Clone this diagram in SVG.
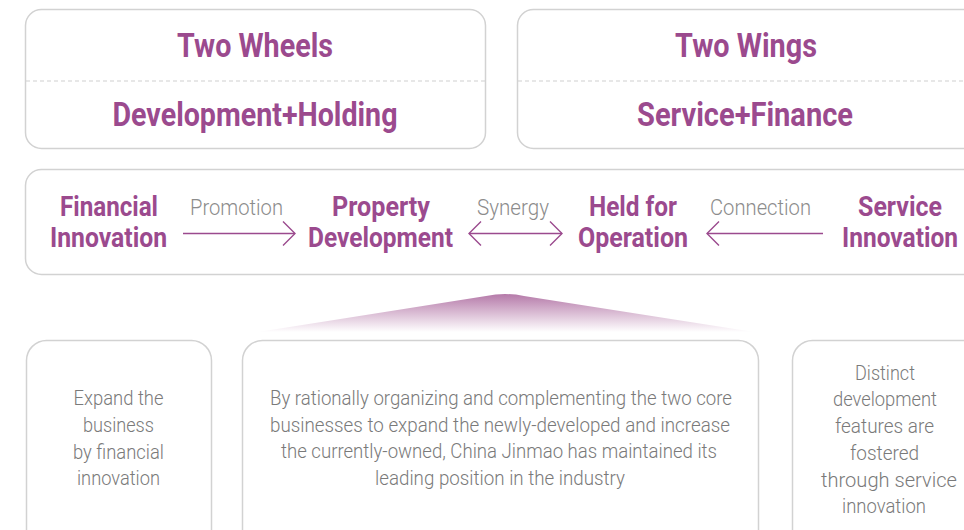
<svg xmlns="http://www.w3.org/2000/svg" width="964" height="530" viewBox="0 0 964 530">
<defs>
<linearGradient id="peak" x1="0" y1="0" x2="0" y2="1">
<stop offset="0" stop-color="#b57aa9"/>
<stop offset="1" stop-color="#ffffff"/>
</linearGradient>
<marker id="ah" viewBox="0 0 14 26" refX="13" refY="13" markerWidth="14" markerHeight="26" markerUnits="userSpaceOnUse" orient="auto-start-reverse">
<path d="M1,1 L13,13 L1,25" fill="none" stroke="#9b4a8e" stroke-width="1.4"/>
</marker>
<style>
.box{fill:#fff;stroke:#d2d2d2;stroke-width:1.5}
.dash{stroke:#cfcfcf;stroke-width:1;stroke-dasharray:4 3}
.h1{font-family:Roboto,"Liberation Sans",sans-serif;font-weight:700;font-size:33px;fill:#9b4a8e;text-anchor:middle}
.h2{font-family:Roboto,"Liberation Sans",sans-serif;font-weight:700;font-size:28px;fill:#9b4a8e;text-anchor:middle}
.lab{font-family:Roboto,"Liberation Sans",sans-serif;font-weight:300;font-size:22px;fill:#8c8c8c;text-anchor:middle}
.body{font-family:Roboto,"Liberation Sans",sans-serif;font-weight:300;font-size:20px;fill:#7a7a7a;text-anchor:middle}
.conn{stroke:#9b4a8e;stroke-width:1.4;fill:none}
</style>
</defs>

<g id="two-wheels">
<rect class="box" x="25.5" y="9.5" width="460" height="139" rx="16"/>
<line class="dash" x1="26" y1="81" x2="485" y2="81"/>
<text class="h1" x="255" y="57" textLength="156" lengthAdjust="spacingAndGlyphs">Two Wheels</text>
<text class="h1" x="255" y="126" textLength="285" lengthAdjust="spacingAndGlyphs">Development+Holding</text>
</g>

<g id="two-wings">
<rect class="box" x="517.5" y="9.5" width="470" height="139" rx="16"/>
<line class="dash" x1="518" y1="81" x2="964" y2="81"/>
<text class="h1" x="746" y="57" textLength="142" lengthAdjust="spacingAndGlyphs">Two Wings</text>
<text class="h1" x="745" y="126" textLength="216" lengthAdjust="spacingAndGlyphs">Service+Finance</text>
</g>

<g id="model-row">
<rect class="box" x="25.5" y="169.5" width="960" height="105" rx="16"/>
</g>

<g id="financial-innovation">
<text class="h2" x="109" y="216" textLength="98" lengthAdjust="spacingAndGlyphs">Financial</text>
<text class="h2" x="108.5" y="247" textLength="117" lengthAdjust="spacingAndGlyphs">Innovation</text>
</g>
<g id="property-development">
<text class="h2" x="381" y="216" textLength="98" lengthAdjust="spacingAndGlyphs">Property</text>
<text class="h2" x="380.5" y="247" textLength="145" lengthAdjust="spacingAndGlyphs">Development</text>
</g>
<g id="held-for-operation">
<text class="h2" x="633" y="216" textLength="88" lengthAdjust="spacingAndGlyphs">Held for</text>
<text class="h2" x="633" y="247" textLength="110" lengthAdjust="spacingAndGlyphs">Operation</text>
</g>
<g id="service-innovation">
<text class="h2" x="900" y="216" textLength="84" lengthAdjust="spacingAndGlyphs">Service</text>
<text class="h2" x="900" y="247" textLength="116" lengthAdjust="spacingAndGlyphs">Innovation</text>
</g>

<g id="connectors">
<line class="conn" x1="183" y1="233.5" x2="295" y2="233.5" marker-end="url(#ah)"/>
<text class="lab" x="236.5" y="215" textLength="93" lengthAdjust="spacingAndGlyphs">Promotion</text>
<line class="conn" x1="469" y1="233.5" x2="562" y2="233.5" marker-start="url(#ah)" marker-end="url(#ah)"/>
<text class="lab" x="513" y="215" textLength="72" lengthAdjust="spacingAndGlyphs">Synergy</text>
<line class="conn" x1="823" y1="233.5" x2="707" y2="233.5" marker-end="url(#ah)"/>
<text class="lab" x="760.5" y="215" textLength="101" lengthAdjust="spacingAndGlyphs">Connection</text>
</g>

<g id="peak-shape">
<path d="M258,332 L486,296 Q505,292 524,296 L754,332 Z" fill="url(#peak)"/>
</g>

<g id="desc-financial">
<rect class="box" x="26.5" y="340.5" width="185" height="220" rx="20"/>
<text class="body" x="118.5" y="405" textLength="90" lengthAdjust="spacingAndGlyphs">Expand the</text>
<text class="body" x="118.5" y="432" textLength="71" lengthAdjust="spacingAndGlyphs">business</text>
<text class="body" x="118.5" y="459" textLength="91" lengthAdjust="spacingAndGlyphs">by financial</text>
<text class="body" x="118.5" y="485" textLength="83" lengthAdjust="spacingAndGlyphs">innovation</text>
</g>

<g id="desc-core">
<rect class="box" x="242.5" y="340.5" width="516" height="220" rx="20"/>
<text class="body" x="501" y="405" textLength="462" lengthAdjust="spacingAndGlyphs">By rationally organizing and complementing the two core</text>
<text class="body" x="500" y="432" textLength="460" lengthAdjust="spacingAndGlyphs">businesses to expand the newly-developed and increase</text>
<text class="body" x="499" y="458" textLength="436" lengthAdjust="spacingAndGlyphs">the currently-owned, China Jinmao has maintained its</text>
<text class="body" x="500" y="485" textLength="250" lengthAdjust="spacingAndGlyphs">leading position in the industry</text>
</g>

<g id="desc-service">
<rect class="box" x="792.5" y="340.5" width="200" height="220" rx="20"/>
<text class="body" x="885" y="380" textLength="60" lengthAdjust="spacingAndGlyphs">Distinct</text>
<text class="body" x="885" y="406" textLength="104" lengthAdjust="spacingAndGlyphs">development</text>
<text class="body" x="884.5" y="433" textLength="99" lengthAdjust="spacingAndGlyphs">features are</text>
<text class="body" x="884.5" y="460" textLength="69" lengthAdjust="spacingAndGlyphs">fostered</text>
<text class="body" x="889" y="487" textLength="136" lengthAdjust="spacingAndGlyphs">through service</text>
<text class="body" x="884" y="513" textLength="84" lengthAdjust="spacingAndGlyphs">innovation</text>
</g>
</svg>
